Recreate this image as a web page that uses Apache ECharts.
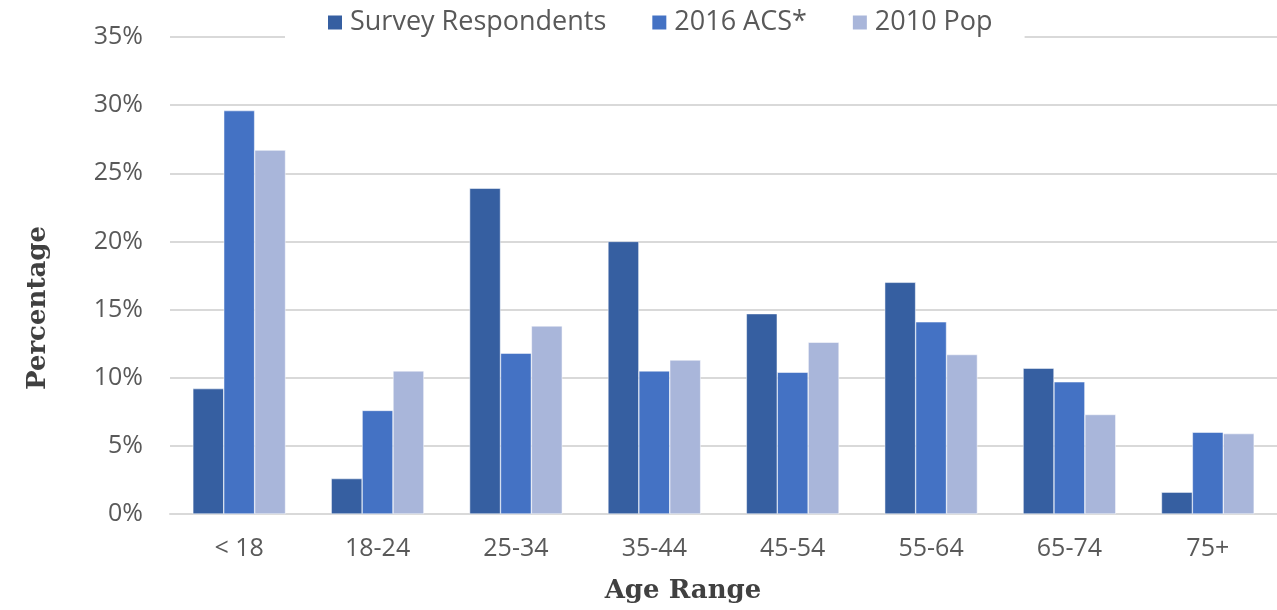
<!DOCTYPE html>
<html><head><meta charset="utf-8">
<script src="https://cdn.jsdelivr.net/npm/echarts@6/dist/echarts.min.js"></script>
<style>html,body{margin:0;padding:0;background:#fff}#c{width:1277px;height:610px}</style>
</head><body><div id="c"></div>
<script>
const categories = ['< 18','18-24','25-34','35-44','45-54','55-64','65-74','75+'];
const surveyRespondents = [9.2, 2.6, 23.9, 20.0, 14.7, 17.0, 10.7, 1.6];
const acs2016 = [29.6, 7.6, 11.8, 10.5, 10.4, 14.1, 9.7, 6.0];
const pop2010 = [26.7, 10.5, 13.8, 11.3, 12.6, 11.7, 7.3, 5.9];
const seriesNames = ['Survey Respondents','2016 ACS*','2010 Pop'];
const yAxisTitle = 'Percentage';
const xAxisTitle = 'Age Range';
const colors = ['#365FA1','#4472C4','#A9B6DA'];

const chart = echarts.init(document.getElementById('c'));
const sans = '"Open Sans", "Noto Sans", sans-serif';
const serif = '"DejaVu Serif", "Liberation Serif", serif';
chart.setOption({
  animation:false,
  color: colors,
  legend:{
    top:5, left:285,
    backgroundColor:'#fff',
    padding:[4,32,4,41],
    itemWidth:16, itemHeight:16, itemGap:44,
    icon:'rect',
    textStyle:{fontFamily:sans, fontSize:27, color:'#595959', padding:[0,0,0,2]},
    data: seriesNames
  },
  grid:{left:170, right:0, top:37, bottom:96, containLabel:false},
  xAxis:{
    type:'category', data:categories,
    axisLine:{lineStyle:{color:'#D9D9D9', width:2}},
    axisTick:{show:false},
    axisLabel:{fontFamily:sans, fontSize:25, color:'#595959', margin:22}
  },
  yAxis:{
    type:'value', min:0, max:35, interval:5,
    axisLabel:{formatter:'{value}%', fontFamily:sans, fontSize:25, color:'#595959', margin:27},
    splitLine:{lineStyle:{color:'#D9D9D9', width:2}},
    axisLine:{show:false}, axisTick:{show:false}
  },
  graphic:[
    {type:'text', x:38, y:308, rotation:Math.PI/2,
     style:{text:yAxisTitle, font:'bold 26px '+serif, fill:'#404040', align:'center', verticalAlign:'middle'}},
    {type:'text', x:683, y:591,
     style:{text:xAxisTitle, font:'bold 26px '+serif, fill:'#404040', align:'center', verticalAlign:'middle'}}
  ],
  series:[
    {name:seriesNames[0], type:'bar', data:surveyRespondents, barGap:'0%', barCategoryGap:'33%', itemStyle:{borderColor:'#fff', borderWidth:0.5}},
    {name:seriesNames[1], type:'bar', data:acs2016, barGap:'0%', barCategoryGap:'33%', itemStyle:{borderColor:'#fff', borderWidth:0.5}},
    {name:seriesNames[2], type:'bar', data:pop2010, barGap:'0%', barCategoryGap:'33%', itemStyle:{borderColor:'#fff', borderWidth:0.5}}
  ]
});
</script></body></html>
